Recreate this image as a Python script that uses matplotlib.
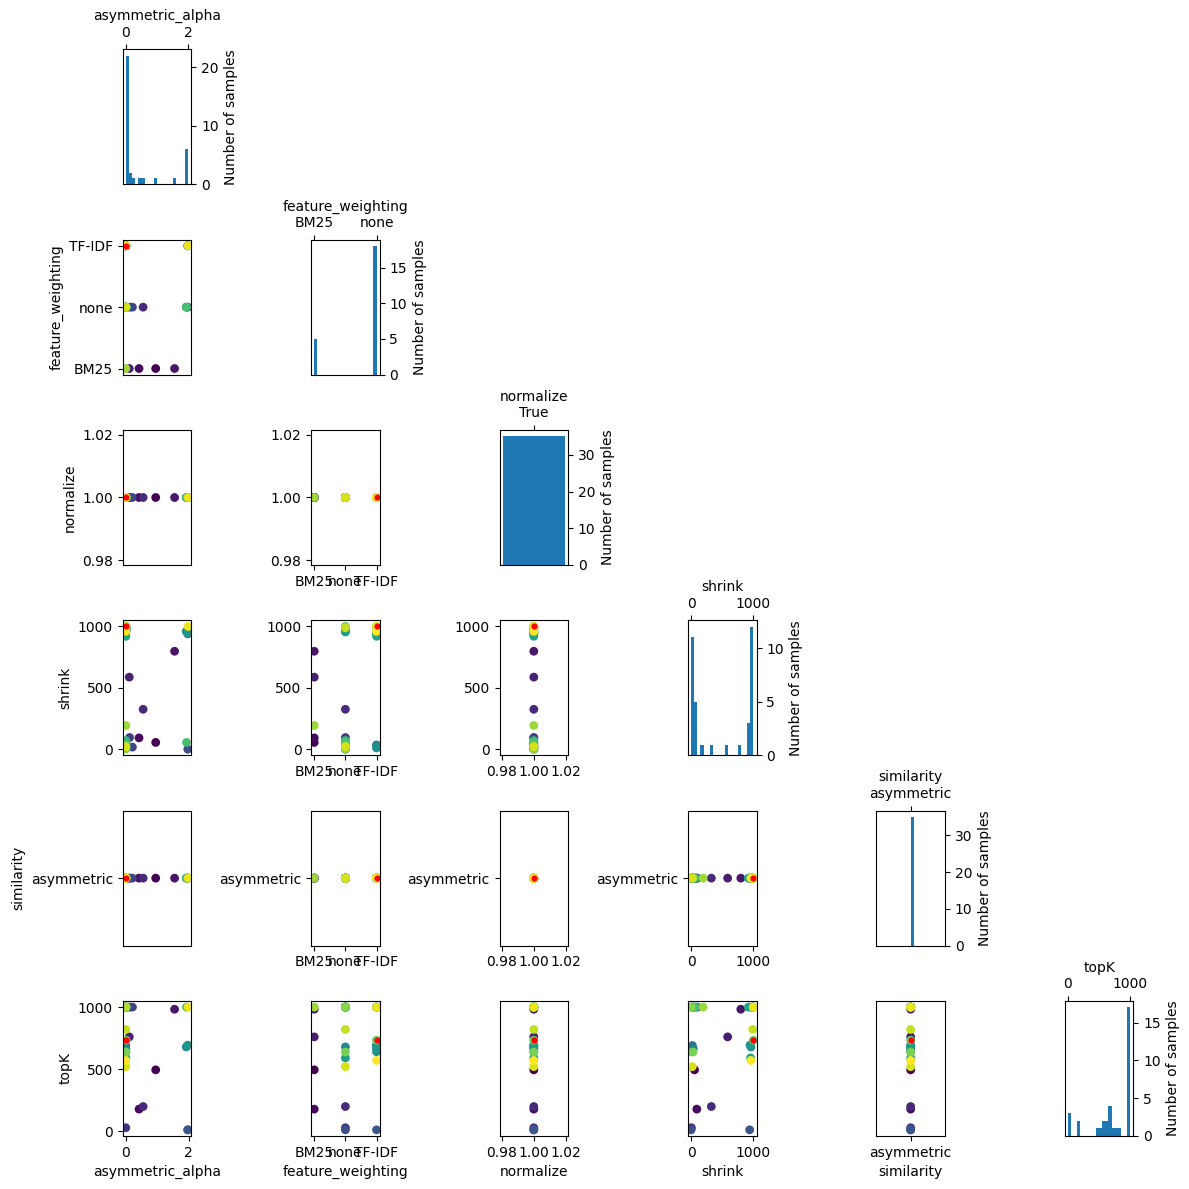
import numpy as np
import matplotlib
matplotlib.use("Agg")
import matplotlib.pyplot as plt

# ---------------- data ----------------
dim_names = ["asymmetric_alpha", "feature_weighting", "normalize",
             "shrink", "similarity", "topK"]
fw_categories = ["BM25", "none", "TF-IDF"]
sim_categories = ["asymmetric"]

# evaluations in iteration order
asymmetric_alpha = [0.95, 0.42, 1.55, 0.11, 0.55, 0.00, 0.12, 0.21, 1.97, 1.97,
                    0.00, 0.01, 0.00, 0.00, 0.02, 0.00, 1.92, 0.00, 1.97, 0.00,
                    0.00, 0.00, 0.01, 0.00, 1.93, 0.00, 0.01, 0.00, 0.00, 0.00,
                    0.00, 0.00, 0.00, 1.98, 0.00]
feature_weighting = ["BM25", "BM25", "BM25", "BM25", "none", "none", "none", "none", "none", "TF-IDF",
                     "TF-IDF", "none", "TF-IDF", "TF-IDF", "none", "TF-IDF", "none", "TF-IDF", "TF-IDF", "none",
                     "TF-IDF", "none", "none", "none", "none", "none", "TF-IDF", "none", "none", "BM25",
                     "TF-IDF", "none", "none", "TF-IDF", "TF-IDF"]
normalize = [True, True, True, True, True, True, True, True, True, True,
             True, True, True, True, True, True, True, True, True, True,
             True, True, True, True, True, True, True, True, True, True,
             True, True, True, True, True]
shrink = [55, 92, 798, 587, 325, 5, 95, 17, 0, 940,
          995, 40, 990, 20, 975, 35, 960, 10, 945, 955,
          920, 985, 15, 70, 55, 1000, 1000, 30, 2, 193,
          1000, 990, 20, 1000, 960]
similarity = ["asymmetric", "asymmetric", "asymmetric", "asymmetric", "asymmetric",
              "asymmetric", "asymmetric", "asymmetric", "asymmetric", "asymmetric",
              "asymmetric", "asymmetric", "asymmetric", "asymmetric", "asymmetric",
              "asymmetric", "asymmetric", "asymmetric", "asymmetric", "asymmetric",
              "asymmetric", "asymmetric", "asymmetric", "asymmetric", "asymmetric",
              "asymmetric", "asymmetric", "asymmetric", "asymmetric", "asymmetric",
              "asymmetric", "asymmetric", "asymmetric", "asymmetric", "asymmetric"]
topK = [494, 177, 983, 760, 198, 27, 1000, 1000, 10, 10,
        1000, 1000, 1000, 690, 1000, 665, 679, 640, 693, 590,
        1000, 1000, 1000, 1000, 1000, 1000, 733, 638, 1000, 1000,
        1000, 820, 520, 1000, 570]
best_index = 26

# ---------------- numeric encoding ----------------
cols = [
    np.asarray(asymmetric_alpha, float),
    np.asarray([fw_categories.index(v) for v in feature_weighting], float),
    np.asarray([1.0 if v else 0.0 for v in normalize]),
    np.asarray(shrink, float),
    np.asarray([sim_categories.index(v) for v in similarity], float),
    np.asarray(topK, float),
]
n = len(dim_names)
order = np.arange(len(topK))

# tick settings for off-diagonal plots
ticks = {
    0: ([0, 2], ["0", "2"], [0, 2], ["0", "2"]),
    1: ([0, 1, 2], fw_categories, [0, 1, 2], fw_categories),
    2: ([0.98, 1.00, 1.02], ["0.98", "1.00", "1.02"], [0.98, 1.00, 1.02], ["0.98", "1.00", "1.02"]),
    3: ([0, 1000], ["0", "1000"], [0, 500, 1000], ["0", "500", "1000"]),
    4: ([0], sim_categories, [0], sim_categories),
    5: ([0, 1000], ["0", "1000"], [0, 500, 1000], ["0", "500", "1000"]),
}
fixed_lims = {2: (0.9785, 1.0215), 4: (-0.055, 0.055)}

fig, axes = plt.subplots(n, n, figsize=(11.89, 11.89), dpi=100)
fig.subplots_adjust(left=0.1032, right=0.9532, bottom=0.0446, top=0.9585,
                    wspace=1.75, hspace=0.41)

for i in range(n):
    for j in range(n):
        ax = axes[i, j]
        if j > i:
            ax.axis("off")
            continue
        if i == j:
            v = cols[i]
            if i == 0:
                ax.hist(v, bins=20, range=(0, 2))
                ax.set_xticks([0, 2])
                ax.set_xticklabels(["0", "2"])
            elif i == 1:
                ax.hist(v, bins=20, range=(0, 1))
                ax.set_xticks([0, 1])
                ax.set_xticklabels(fw_categories[:2])
            elif i == 2:
                ax.hist(v, bins=1)
                ax.set_xticks([1])
                ax.set_xticklabels(["True"])
            elif i == 3:
                ax.hist(v, bins=20, range=(0, 1000))
                ax.set_xticks([0, 1000])
                ax.set_xticklabels(["0", "1000"])
            elif i == 4:
                ax.hist(v, bins=20)
                ax.set_xticks([0])
                ax.set_xticklabels(sim_categories)
            else:
                ax.hist(v, bins=20, range=(0, 1000))
                ax.set_xticks([0, 1000])
                ax.set_xticklabels(["0", "1000"])
            ax.xaxis.tick_top()
            ax.xaxis.set_label_position("top")
            ax.set_xlabel(dim_names[i])
            ax.yaxis.tick_right()
            ax.yaxis.set_label_position("right")
            ax.set_ylabel("Number of samples")
            continue

        # off-diagonal scatter: x = dim j, y = dim i
        ax.scatter(cols[j], cols[i], c=order, s=40, lw=0., cmap="viridis")
        ax.scatter(cols[j][best_index], cols[i][best_index], c="r", s=20, lw=0.)
        if j in fixed_lims:
            ax.set_xlim(*fixed_lims[j])
        if i in fixed_lims:
            ax.set_ylim(*fixed_lims[i])

        xt, xl, _, _ = ticks[j]
        _, _, yt, yl = ticks[i]
        if j == 0 and i < n - 1:
            ax.set_xticks([])
        else:
            ax.set_xticks(xt)
            ax.set_xticklabels(xl)
        if i == n - 1:
            ax.set_xlabel(dim_names[j])
        if i == n - 1 and j > 0:
            ax.set_yticks([])
        else:
            ax.set_yticks(yt)
            ax.set_yticklabels(yl)
        if j == 0:
            ax.set_ylabel(dim_names[i])

fig.savefig("out.png", dpi=100)
